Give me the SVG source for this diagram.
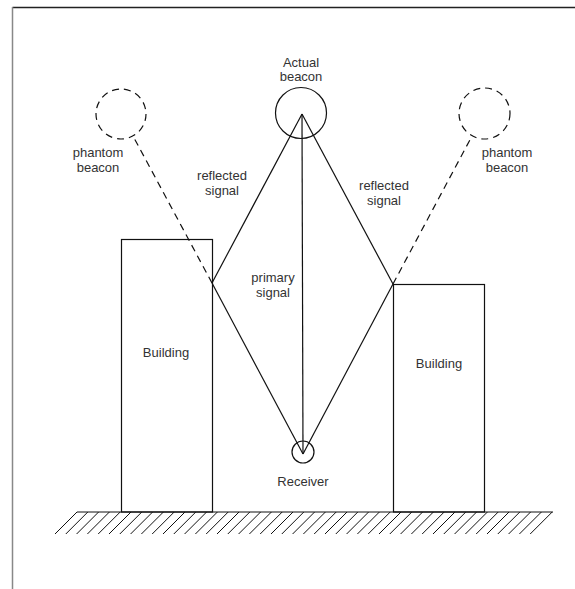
<svg xmlns="http://www.w3.org/2000/svg" width="575" height="589" viewBox="0 0 575 589">
<style>
  text { font-family: "Liberation Sans", Arial, sans-serif; font-size: 13px; fill: #333; text-anchor: middle; }
  .ln { stroke: #111; stroke-width: 1.2; fill: none; }
  .dash { stroke: #111; stroke-width: 1.2; fill: none; stroke-dasharray: 7 5; }
</style>
<rect width="575" height="589" fill="#fff"/>
<g id="frame">
  <line x1="12.5" y1="7.5" x2="575" y2="7.5" stroke="#222" stroke-width="1.5"/>
  <line x1="12.5" y1="7" x2="12.5" y2="589" stroke="#888" stroke-width="1.5"/>
</g>
<g id="ground">
  <line class="ln" x1="77" y1="512" x2="553" y2="512"/>
  <path id="hatches" d="M77 512 l-22 22 M87.8 512 l-22 22 M98.6 512 l-22 22 M109.4 512 l-22 22 M120.2 512 l-22 22 M131 512 l-22 22 M141.8 512 l-22 22 M152.6 512 l-22 22 M163.4 512 l-22 22 M174.2 512 l-22 22 M185 512 l-22 22 M195.8 512 l-22 22 M206.6 512 l-22 22 M217.4 512 l-22 22 M228.2 512 l-22 22 M239 512 l-22 22 M249.8 512 l-22 22 M260.6 512 l-22 22 M271.4 512 l-22 22 M282.2 512 l-22 22 M293 512 l-22 22 M303.8 512 l-22 22 M314.6 512 l-22 22 M325.4 512 l-22 22 M336.2 512 l-22 22 M347 512 l-22 22 M357.8 512 l-22 22 M368.6 512 l-22 22 M379.4 512 l-22 22 M390.2 512 l-22 22 M401 512 l-22 22 M411.8 512 l-22 22 M422.6 512 l-22 22 M433.4 512 l-22 22 M444.2 512 l-22 22 M455 512 l-22 22 M465.8 512 l-22 22 M476.6 512 l-22 22 M487.4 512 l-22 22 M498.2 512 l-22 22 M509 512 l-22 22 M519.8 512 l-22 22 M530.6 512 l-22 22 M541.4 512 l-22 22 M552.2 512 l-22 22" stroke="#111" stroke-width="1" fill="none"/>
</g>
<g id="building-left">
  <rect class="ln" x="121.5" y="239.5" width="91" height="272.5"/>
  <text x="166" y="357">Building</text>
</g>
<g id="building-right">
  <rect class="ln" x="393.5" y="284.5" width="91" height="227.5"/>
  <text x="439" y="368">Building</text>
</g>
<g id="connectors">
  <line class="ln" x1="302" y1="114" x2="212" y2="283"/>
  <line class="ln" x1="302" y1="114" x2="393" y2="284"/>
  <line class="ln" x1="302" y1="114" x2="303" y2="454"/>
  <line class="ln" x1="212" y1="283" x2="303" y2="454"/>
  <line class="ln" x1="393" y1="284" x2="303" y2="454"/>
  <line class="dash" x1="212" y1="283" x2="133" y2="136"/>
  <line class="dash" x1="393" y1="284" x2="472" y2="136"/>
</g>
<g id="actual-beacon">
  <circle class="ln" cx="301" cy="113" r="25.5"/>
  <text x="301" y="67">Actual</text>
  <text x="301" y="81">beacon</text>
</g>
<g id="phantom-left">
  <circle class="dash" cx="121" cy="114" r="25" stroke-dasharray="8 4"/>
  <text x="98" y="157">phantom</text>
  <text x="98" y="172">beacon</text>
</g>
<g id="phantom-right">
  <circle class="dash" cx="484.5" cy="113.5" r="25.5" stroke-dasharray="8 4"/>
  <text x="507" y="157">phantom</text>
  <text x="507" y="172">beacon</text>
</g>
<g id="receiver">
  <circle class="ln" cx="303" cy="452" r="11"/>
  <text x="303" y="486">Receiver</text>
</g>
<g id="labels">
  <text x="222" y="180">reflected</text>
  <text x="222" y="195">signal</text>
  <text x="384" y="190">reflected</text>
  <text x="384" y="205">signal</text>
  <text x="273" y="282">primary</text>
  <text x="273" y="297">signal</text>
</g>
</svg>
